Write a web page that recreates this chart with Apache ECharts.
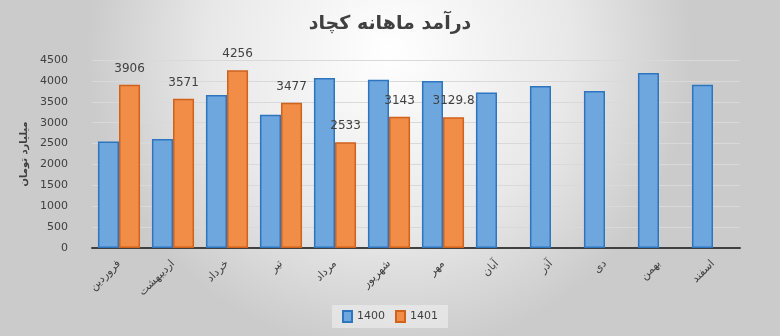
<!DOCTYPE html>
<html>
<head>
<meta charset="utf-8">
<script src="https://cdn.jsdelivr.net/npm/echarts@6/dist/echarts.min.js"></script>
<style>
html,body{margin:0;padding:0;}
#c{width:780px;height:336px;}
</style>
</head>
<body>
<div id="c"></div>
<script>
var title = 'درآمد ماهانه کچاد';
var yAxisName = 'میلیارد تومان';
var months = ['فروردین','اردیبهشت','خرداد','تیر','مرداد','شهریور','مهر','آبان','آذر','دی','بهمن','اسفند'];
var seriesNames = ['1400','1401'];
var values1400 = [2550, 2610, 3660, 3190, 4070, 4030, 4000, 3720, 3880, 3760, 4190, 3910];
var values1401 = [3906, 3571, 4256, 3477, 2533, 3143, 3129.8, null, null, null, null, null];
var yTicks = {min: 0, max: 4500, interval: 500};

var chart = echarts.init(document.getElementById('c'));
var font = 'DejaVu Sans';
chart.setOption({
  backgroundColor: {
    type: 'radial', x: 0.5, y: 0.15, r: 0.9,
    colorStops: [{offset: 0, color: '#ffffff'}, {offset: 0.6, color: '#e8e8e8'}, {offset: 1, color: '#cbcbcb'}]
  },
  textStyle: {fontFamily: font},
  title: {
    text: title, left: 'center', top: 10,
    textStyle: {fontFamily: font, fontSize: 19, fontWeight: 'bold', color: '#404040'}
  },
  legend: {
    bottom: 8, left: 'center', icon: 'rect',
    itemWidth: 9, itemHeight: 11, itemGap: 10,
    backgroundColor: 'rgba(235,235,235,0.7)', padding: [5, 10],
    textStyle: {fontFamily: font, fontSize: 11, color: '#404040'},
    data: seriesNames
  },
  grid: {left: 92, right: 40, top: 60, bottom: 88, containLabel: false},
  xAxis: {
    type: 'category', data: months,
    axisLine: {lineStyle: {color: '#404040', width: 2}},
    axisTick: {show: false},
    axisLabel: {rotate: 45, margin: 14, fontFamily: font, fontSize: 11, color: '#404040'}
  },
  yAxis: {
    type: 'value', min: yTicks.min, max: yTicks.max, interval: yTicks.interval,
    name: yAxisName, nameLocation: 'middle', nameGap: 44, nameRotate: 90,
    nameTextStyle: {fontFamily: font, fontSize: 10, fontWeight: 'bold', color: '#404040'},
    axisLine: {show: false}, axisTick: {show: false},
    axisLabel: {margin: 24, fontFamily: font, fontSize: 11, color: '#404040', formatter: function (v) { return String(v); }},
    splitLine: {lineStyle: {color: '#d9d9d9'}}
  },
  series: [
    {
      name: seriesNames[0], type: 'bar', data: values1400,
      barGap: '0%', barCategoryGap: '22%',
      itemStyle: {color: '#6ea7de', borderColor: '#2e75c0', borderWidth: 1.5}
    },
    {
      name: seriesNames[1], type: 'bar', data: values1401,
      itemStyle: {color: '#f18d47', borderColor: '#d0621c', borderWidth: 1.5},
      label: {show: true, position: 'top', distance: 10, fontFamily: font, fontSize: 12, color: '#404040'}
    }
  ]
});
</script>
</body>
</html>
